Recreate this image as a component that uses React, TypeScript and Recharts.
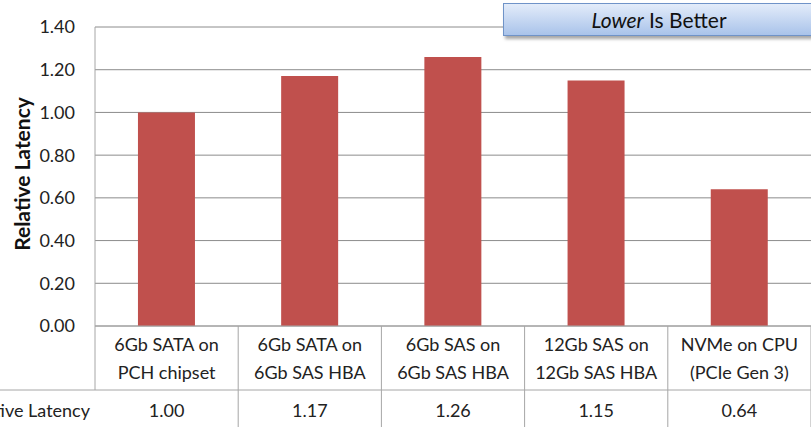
import React from "react";
import { BarChart, Bar, XAxis, YAxis, CartesianGrid } from "recharts";

// categories (two lines each, as shown in the data table)
const categoryTop = ["6Gb SATA on", "6Gb SATA on", "6Gb SAS on", "12Gb SAS on", "NVMe on CPU"];
const categoryBottom = ["PCH chipset", "6Gb SAS HBA", "6Gb SAS HBA", "12Gb SAS HBA", "(PCIe Gen 3)"];
const latency = [1.0, 1.17, 1.26, 1.15, 0.64];
const yTicks = [0, 0.2, 0.4, 0.6, 0.8, 1.0, 1.2, 1.4];
const seriesName = "Relative Latency";

const data = categoryTop.map((top, i) => ({
    name: top + " " + categoryBottom[i],
    value: latency[i],
}));

const W = 811;
const H = 427;
const LEFT = 95;
const BAND = (W - LEFT) / categoryTop.length;
const FONT = "Lato, 'Open Sans', sans-serif";
const LINE = "#a6a6a6";

const TableTick = (props: any) => {
    const { x, y, index } = props;
    const half = BAND / 2;
    const last = index === categoryTop.length - 1;
    return (
        <g fontFamily={FONT} fontSize={18} fill="#222">
            <line x1={x - half} y1={y} x2={x - half} y2={y + (index === 0 ? 64 : 120)} stroke={LINE} />
            {last && <line x1={x + half} y1={y} x2={x + half} y2={y + 120} stroke={LINE} />}
            <line x1={index === 0 ? 0 : x - half} y1={y + 64} x2={x + half} y2={y + 64} stroke={LINE} />
            <text x={x} y={y + 25} textAnchor="middle" fill="#222">{categoryTop[index]}</text>
            <text x={x} y={y + 53} textAnchor="middle" fill="#222">{categoryBottom[index]}</text>
            <text x={x} y={y + 91} textAnchor="middle" fill="#222">{latency[index].toFixed(2)}</text>
            {index === 0 && (
                <text x={x - half - 5} y={y + 91} textAnchor="end" fill="#222">{seriesName}</text>
            )}
        </g>
    );
};

const YLabel = () => (
    <text
        x={21}
        y={174}
        transform="rotate(-90, 21, 174)"
        textAnchor="middle"
        dominantBaseline="central"
        fontFamily={FONT}
        fontSize={21}
        fontWeight="bold"
        fill="#111"
    >
        Relative Latency
    </text>
);

export default function App() {
    return (
        <div style={{ position: "relative", width: W, height: H, overflow: "hidden" }}>
            <style>{"body{margin:0}"}</style>
            <BarChart
                width={W}
                height={H}
                data={data}
                margin={{ top: 27, right: 0, left: 0, bottom: 0 }}
                barCategoryGap="30%"
            >
                <CartesianGrid vertical={false} stroke="#8c8c8c" />
                <XAxis
                    dataKey="name"
                    height={101}
                    interval={0}
                    tickSize={0}
                    tickMargin={0}
                    axisLine={{ stroke: LINE }}
                    tickLine={false}
                    tick={<TableTick />}
                />
                <YAxis
                    width={LEFT}
                    domain={[0, 1.4]}
                    ticks={yTicks}
                    tickFormatter={(v: number) => v.toFixed(2)}
                    tickSize={0}
                    tickMargin={20}
                    axisLine={{ stroke: LINE }}
                    tickLine={false}
                    tick={{ fill: "#222", fontSize: 18, fontFamily: FONT }}
                    label={<YLabel />}
                />
                <Bar dataKey="value" fill="#c0504d" isAnimationActive={false} />
            </BarChart>
            <div
                style={{
                    position: "absolute",
                    left: 503,
                    top: 3,
                    width: 312,
                    height: 33,
                    border: "1px solid #6f93c8",
                    background: "linear-gradient(#e3ecfa, #a9c3ea)",
                    boxShadow: "2px 3px 3px rgba(0,0,0,0.35)",
                    fontFamily: FONT,
                    fontSize: 21,
                    color: "#111",
                    display: "flex",
                    alignItems: "center",
                    justifyContent: "center",
                    boxSizing: "border-box",
                }}
            >
                <span><i>Lower</i> Is Better</span>
            </div>
        </div>
    );
}
